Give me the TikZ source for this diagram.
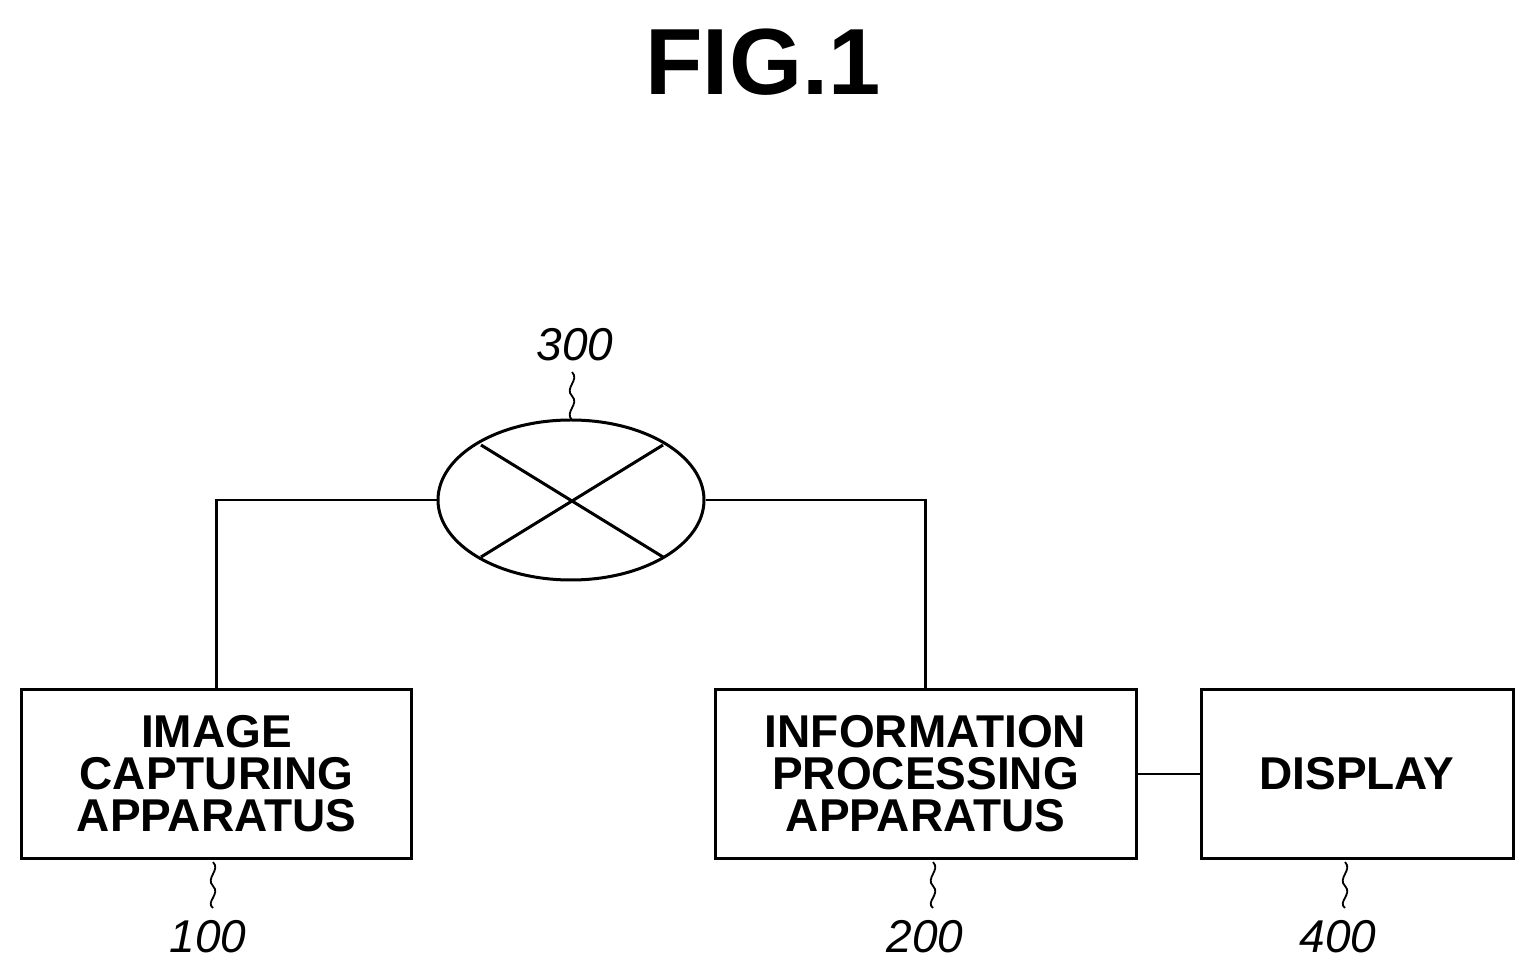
\documentclass[tikz,border=0pt]{standalone}
\usepackage{fontspec}
\setmainfont{Liberation Sans}
\usetikzlibrary{shapes.geometric}
\begin{document}
\begin{tikzpicture}[x=0.5pt,y=-0.5pt,
  box/.style={draw,line width=1.5pt,align=center,font=\fontsize{23}{21}\selectfont\bfseries,inner sep=0pt},
  num/.style={font=\fontsize{23}{23}\selectfont\itshape},
  ln/.style={line width=1.1pt}]
\useasboundingbox (0,0) rectangle (1536,977);
\node[font=\fontsize{47}{47}\selectfont\bfseries] (title) at (763,62) {FIG.1};
\node[box,minimum width=195pt,minimum height=84pt] (b100) at (216.5,774) {IMAGE\\CAPTURING\\APPARATUS};
\node[box,minimum width=210.5pt,minimum height=84pt] (b200) at (925.5,774) {INFORMATION\\PROCESSING\\APPARATUS};
\node[box,minimum width=156pt,minimum height=84pt] (b400) at (1357,774) {DISPLAY};
\node[draw,ellipse,line width=1.5pt,minimum width=133pt,minimum height=80pt,inner sep=0pt] (net) at (571,500) {};
\draw[line width=1.5pt] (481,445) -- (663,557) (481,557) -- (663,445);
\draw[ln] (net.west) -| (b100.north);
\draw[ln] (net.east) -| (b200.north);
\draw[ln] (b200.east) -- (b400.west);
\node[num] (n300) at (575,345) {300};
\node[num] (n100) at (208,937) {100};
\node[num] (n200) at (925,937) {200};
\node[num] (n400) at (1338,937) {400};
\foreach \x/\ya/\yb in {572/372/420, 213/862/908, 933/862/908, 1345/862/908}{
  \draw[line width=0.9pt] (\x,\ya) .. controls (\x+8,\ya+8) and (\x-8,\ya+16) .. (\x,\ya+24)
    .. controls (\x+8,\ya+32) and (\x-8,\ya+40) .. (\x,\yb);
}
\end{tikzpicture}
\end{document}
